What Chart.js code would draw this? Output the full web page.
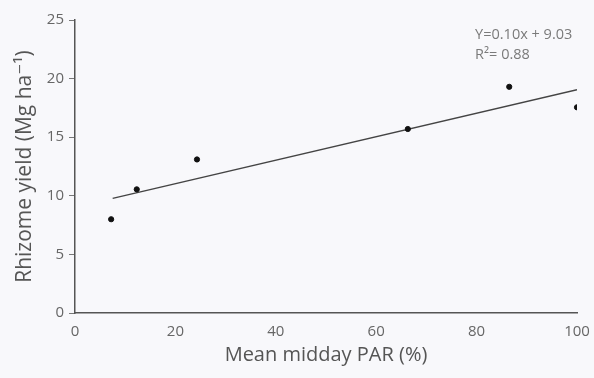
<!DOCTYPE html>
<html>
<head>
<meta charset="utf-8">
<script src="https://cdn.jsdelivr.net/npm/chart.js@4"></script>
<style>
  html, body { margin: 0; padding: 0; background: #f8f8fb; }
  #wrap { width: 594px; height: 378px; }
</style>
</head>
<body>
<div id="wrap"><canvas id="c" width="594" height="378"></canvas></div>
<script>
// --- data ---
const parX = [7.2, 12.3, 24.3, 66.3, 86.5, 100];
const yieldY = [8.0, 10.55, 13.1, 15.7, 19.3, 17.55];
// fitted line, end points
const trendX = [7.5, 100];
const trendY = [9.78, 19.05];
const eqLines = ['Y=0.10x + 9.03', 'R\u00B2= 0.88'];
const eqPos = { x: 79.7, y: [23.7, 22.0] };

const points = parX.map((x, i) => ({ x: x, y: yieldY[i] }));
const trend = trendX.map((x, i) => ({ x: x, y: trendY[i] }));

const font = "'Open Sans', 'DejaVu Sans', sans-serif";

// equation text in the top right
const eqPlugin = {
  id: 'eq',
  afterDraw(chart) {
    const ctx = chart.ctx;
    const xs = chart.scales.x, ys = chart.scales.y;
    ctx.save();
    ctx.fillStyle = '#7a7a7a';
    ctx.font = '14.5px ' + font;
    ctx.textAlign = 'left';
    ctx.textBaseline = 'middle';
    eqLines.forEach((t, i) => {
      ctx.fillText(t, xs.getPixelForValue(eqPos.x), ys.getPixelForValue(eqPos.y[i]));
    });
    ctx.restore();
  }
};

new Chart(document.getElementById('c'), {
  type: 'scatter',
  data: {
    datasets: [
      {
        label: 'yield',
        data: points,
        backgroundColor: '#111',
        borderColor: '#111',
        pointRadius: 2.6,
        pointHoverRadius: 2.6
      },
      {
        type: 'line',
        label: 'fit',
        data: trend,
        borderColor: '#444',
        borderWidth: 1.4,
        pointRadius: 0,
        fill: false
      }
    ]
  },
  options: {
    responsive: false,
    animation: false,
    layout: { padding: { top: 20, right: 17, left: 0, bottom: 0 } },
    plugins: {
      legend: { display: false },
      tooltip: { enabled: false }
    },
    scales: {
      x: {
        type: 'linear',
        min: 0, max: 100,
        ticks: { stepSize: 20, color: '#666', font: { family: font, size: 15 }, padding: 10 },
        grid: { display: false, drawTicks: false },
        border: { display: true, color: '#555', width: 1.5 },
        title: { display: true, text: 'Mean midday PAR (%)', color: '#555', font: { family: font, size: 20 }, padding: { top: 0, bottom: 11 } },
        afterFit(scale) {
          scale.height = 65;
          scale.paddingLeft = 0;
          scale.paddingRight = 0;
        }
      },
      y: {
        min: 0, max: 25,
        ticks: { stepSize: 5, color: '#666', font: { family: font, size: 15 }, padding: 5 },
        grid: { display: true, drawOnChartArea: false, tickLength: 6, color: '#777' },
        border: { display: true, color: '#555', width: 1.5 },
        title: { display: true, text: 'Rhizome yield (Mg ha\u207B\u00B9)', color: '#555', font: { family: font, size: 21 }, padding: { top: 12, bottom: 0 } },
        afterFit(scale) {
          scale.width = 75;
          scale.paddingTop = 0;
          scale.paddingBottom = 0;
        }
      }
    }
  },
  plugins: [eqPlugin]
});
</script>
</body>
</html>
